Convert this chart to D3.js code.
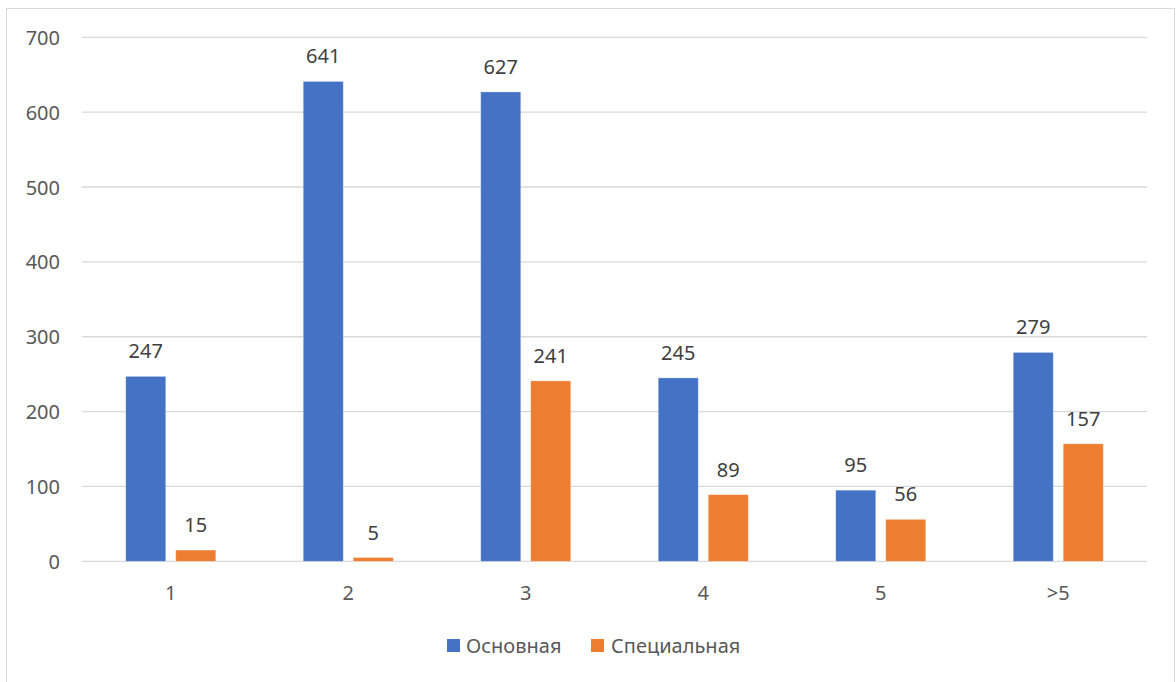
<!DOCTYPE html>
<html>
<head>
<meta charset="utf-8">
<script src="https://cdn.jsdelivr.net/npm/d3@7"></script>
<style>
  html, body { margin: 0; padding: 0; background: #ffffff; }
  svg { display: block; font-family: "Noto Sans", "Open Sans", sans-serif; }
</style>
</head>
<body>
<svg id="chart" width="1176" height="682"></svg>
<script>
// Categories and series values
const categories = ["1", "2", "3", "4", "5", ">5"];
const seriesNames = ["Основная", "Специальная"];
const osnovnaya = [247, 641, 627, 245, 95, 279];
const specialnaya = [15, 5, 241, 89, 56, 157];
const yTicks = [0, 100, 200, 300, 400, 500, 600, 700];
const seriesColors = ["#4472C4", "#ED7D31"];

const FONT_SIZE = 20;

const rows = categories.map((c, i) => ({
  category: c,
  values: [
    { key: seriesNames[0], value: osnovnaya[i] },
    { key: seriesNames[1], value: specialnaya[i] }
  ]
}));

const svg = d3.select("#chart");

// Outer chart frame
svg.append("rect")
  .attr("x", 6.5).attr("y", 8.5)
  .attr("width", 1168).attr("height", 700)
  .attr("fill", "#ffffff")
  .attr("stroke", "#d9d9d9")
  .attr("stroke-width", 1);

const plot = { left: 82, right: 1147, top: 37.3, bottom: 561.3 };

const x0 = d3.scaleBand()
  .domain(categories)
  .range([plot.left, plot.right])
  .paddingInner(0).paddingOuter(0);

const x1 = d3.scaleBand()
  .domain(seriesNames)
  .range([-45, 45])
  .paddingInner(0.2).paddingOuter(0);

const y = d3.scaleLinear()
  .domain([0, 700])
  .range([plot.bottom, plot.top]);

const color = d3.scaleOrdinal().domain(seriesNames).range(seriesColors);

// Horizontal gridlines
svg.append("g")
  .selectAll("line")
  .data(yTicks)
  .join("line")
  .attr("x1", plot.left).attr("x2", plot.right)
  .attr("y1", d => y(d)).attr("y2", d => y(d))
  .attr("stroke", "#d9d9d9")
  .attr("stroke-width", 1.3);

// Y axis labels
const yAxis = d3.axisLeft(y).tickValues(yTicks).tickSize(0).tickPadding(0);
svg.append("g")
  .attr("transform", `translate(60,0)`)
  .call(yAxis)
  .call(g => g.select(".domain").remove())
  .call(g => g.selectAll("text")
    .attr("fill", "#595959")
    .attr("font-size", FONT_SIZE)
    .attr("font-family", "'Noto Sans', 'Open Sans', sans-serif")
    .attr("dy", "0.35em"));

// X axis labels
const xAxis = d3.axisBottom(x0).tickSize(0).tickPadding(0);
svg.append("g")
  .attr("transform", `translate(0,${plot.bottom})`)
  .call(xAxis)
  .call(g => g.select(".domain").remove())
  .call(g => g.selectAll("text")
    .attr("fill", "#595959")
    .attr("font-size", FONT_SIZE)
    .attr("font-family", "'Noto Sans', 'Open Sans', sans-serif")
    .attr("dy", null)
    .attr("y", 39));

// Bars
const groups = svg.append("g")
  .selectAll("g")
  .data(rows)
  .join("g")
  .attr("transform", d => `translate(${x0(d.category) + x0.bandwidth() / 2},0)`);

groups.selectAll("rect")
  .data(d => d.values)
  .join("rect")
  .attr("x", d => x1(d.key))
  .attr("width", x1.bandwidth())
  .attr("y", d => y(d.value))
  .attr("height", d => y(0) - y(d.value))
  .attr("fill", d => color(d.key))
  .attr("stroke", "#ffffff")
  .attr("stroke-opacity", 0.35)
  .attr("stroke-width", 0.8);

// Value labels
groups.selectAll("text")
  .data(d => d.values)
  .join("text")
  .attr("x", d => x1(d.key) + x1.bandwidth() / 2)
  .attr("y", d => y(d.value) - 18)
  .attr("text-anchor", "middle")
  .attr("fill", "#404040")
  .attr("font-size", FONT_SIZE)
  .text(d => d.value);

// Legend
const legendItems = [
  { key: seriesNames[0], sx: 447, tx: 466 },
  { key: seriesNames[1], sx: 591, tx: 611 }
];
const legend = svg.append("g");
legend.selectAll("rect")
  .data(legendItems)
  .join("rect")
  .attr("x", d => d.sx).attr("y", 639)
  .attr("width", 13).attr("height", 13)
  .attr("fill", d => color(d.key));
legend.selectAll("text")
  .data(legendItems)
  .join("text")
  .attr("x", d => d.tx).attr("y", 653)
  .attr("fill", "#595959")
  .attr("font-size", FONT_SIZE)
  .text(d => d.key);
</script>
</body>
</html>
